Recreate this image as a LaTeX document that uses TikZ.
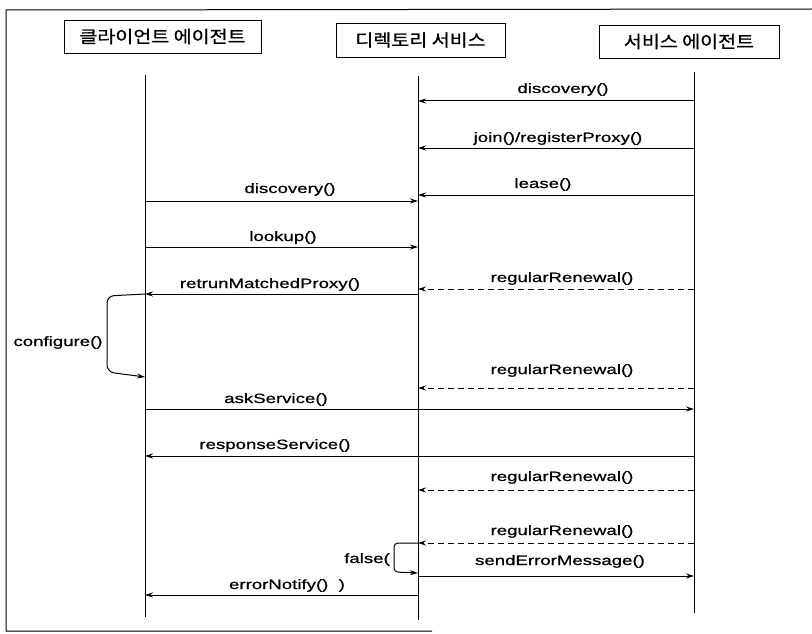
\documentclass[tikz,border=0pt]{standalone}
\usepackage{fontspec}
\setmainfont{Liberation Sans}[FakeStretch=1.38,FakeBold=0.8]
\newfontfamily\krfont{Noto Sans CJK KR}[FakeStretch=1.15,FakeBold=0.8]
\usetikzlibrary{arrows.meta}
\begin{document}
\begin{tikzpicture}[x=1pt,y=-1pt,
  hdr/.style={draw,line width=0.9pt,font=\krfont\fontsize{17}{19}\selectfont,inner sep=0pt},
  life/.style={line width=0.8pt},
  msg/.style={line width=1pt,-{Stealth[length=8pt,width=5pt]}},
  ret/.style={msg,dash pattern=on 6pt off 4pt},
  lbl/.style={font=\fontsize{13.5}{16}\selectfont,inner sep=0pt,anchor=base},
  frameline/.style={line width=1pt}]
\useasboundingbox (0,0) rectangle (812,634);
% frame
\coordinate (fTL) at (6,10);
\coordinate (fTR) at (812,9);
\coordinate (fBL) at (6,631);
\coordinate (fBR) at (432,631);
\draw[frameline] (fTR) -- (fTL) -- (fBL) -- (fBR);
% headers
\node[hdr,minimum width=197,minimum height=33] (hC) at (162.5,36.5) {클라이언트 에이전트};
\node[hdr,minimum width=169,minimum height=34] (hD) at (420.5,40) {디렉토리 서비스};
\node[hdr,minimum width=180,minimum height=33] (hS) at (689,41.5) {서비스 에이전트};
% lifelines
\coordinate (cT) at (145,75);  \coordinate (cB) at (145,617);
\coordinate (dT) at (418,76);  \coordinate (dB) at (418,620);
\coordinate (sT) at (694,72);  \coordinate (sB) at (694,613);
\draw[life] (cT) -- (cB);
\draw[life] (dT) -- (dB);
\draw[life] (sT) -- (sB);
% message end points
\coordinate (m1s) at (694,101); \coordinate (m1d) at (418,101);
\coordinate (m2s) at (694,148); \coordinate (m2d) at (418,148);
\coordinate (m3s) at (694,195); \coordinate (m3d) at (418,195);
\coordinate (m4s) at (145,201); \coordinate (m4d) at (418,201);
\coordinate (m5s) at (145,247); \coordinate (m5d) at (418,247);
\coordinate (m6s) at (418,294); \coordinate (m6d) at (145,294);
\coordinate (m7s) at (694,289); \coordinate (m7d) at (418,289);
\coordinate (m8s) at (694,388); \coordinate (m8d) at (418,388);
\coordinate (m9s) at (145,409); \coordinate (m9d) at (694,409);
\coordinate (m10s) at (694,456); \coordinate (m10d) at (145,456);
\coordinate (m11s) at (694,490); \coordinate (m11d) at (418,490);
\coordinate (m12s) at (694,543); \coordinate (m12d) at (418,543);
\coordinate (m13s) at (418,576); \coordinate (m13d) at (694,576);
\coordinate (m14s) at (418,595); \coordinate (m14d) at (145,595);
\coordinate (cfA) at (145,294); \coordinate (cfB) at (145,377);
\coordinate (fsA) at (418,543); \coordinate (fsB) at (418,573);
% messages
\draw[msg] (m1s) -- (m1d);
\draw[msg] (m2s) -- (m2d);
\draw[msg] (m3s) -- (m3d);
\draw[msg] (m4s) -- (m4d);
\draw[msg] (m5s) -- (m5d);
\draw[msg] (m6s) -- (m6d);
\draw[ret] (m7s) -- (m7d);
\draw[ret] (m8s) -- (m8d);
\draw[msg] (m9s) -- (m9d);
\draw[msg] (m10s) -- (m10d);
\draw[ret] (m11s) -- (m11d);
\draw[ret] (m12s) -- (m12d);
\draw[msg] (m13s) -- (m13d);
\draw[msg] (m14s) -- (m14d);
% self loops
\draw[msg,rounded corners=7pt] (cfA) -- (107,296) -- (107,372) -- (cfB);
\draw[msg,rounded corners=4pt] (fsA) -- (394,543) -- (394,572) -- (fsB);
% labels
\node[lbl] (l1) at (563,93) {discovery()};
\node[lbl] (l2) at (558,142) {join()/registerProxy()};
\node[lbl] (l3) at (543,188) {lease()};
\node[lbl] (l4) at (290,193) {discovery()};
\node[lbl] (l5) at (283,241) {lookup()};
\node[lbl] (l6) at (270,288) {retrunMatchedProxy()};
\node[lbl] (l7) at (562,282) {regularRenewal()};
\node[lbl] (l8) at (562,374) {regularRenewal()};
\node[lbl] (l9) at (276,403) {askService()};
\node[lbl] (l10) at (275,449) {responseService()};
\node[lbl] (l11) at (562,481) {regularRenewal()};
\node[lbl] (l12) at (562,535) {regularRenewal()};
\node[lbl] (l13) at (560,565) {sendErrorMessage()};
\node[lbl] (l14) at (287,589) {errorNotify()\ \ )};
\node[lbl] (l15) at (367,563) {false(};
\node[lbl] (l16) at (58,346) {configure()};
\end{tikzpicture}
\end{document}
